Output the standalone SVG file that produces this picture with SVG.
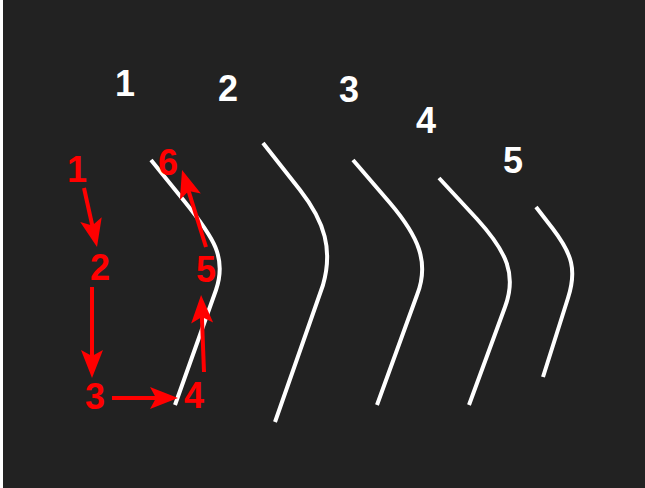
<svg xmlns="http://www.w3.org/2000/svg" width="645" height="488" viewBox="0 0 645 488">
  <style>
    .curve { fill: none; stroke: #ffffff; stroke-width: 4; stroke-linecap: butt; stroke-linejoin: round; }
    .step { fill: none; stroke: #ff0000; stroke-width: 4; marker-end: url(#head); }
    .num { font-family: "Liberation Sans", Arial, sans-serif; font-weight: bold; font-size: 36px; text-anchor: middle; }
    .white { fill: #ffffff; }
    .red { fill: #ff0000; }
  </style>
  <defs>
    <marker id="head" markerUnits="userSpaceOnUse" viewBox="-16 -12 32 24" markerWidth="32" markerHeight="24" refX="0" refY="0" orient="auto">
      <path d="M14,0 L-14,-11 L-8,0 L-14,11 Z" fill="#ff0000"/>
    </marker>
  </defs>

  <rect x="0" y="0" width="645" height="488" fill="#ffffff"/>
  <rect x="3" y="0" width="642" height="488" fill="#222222"/>

  <!-- bent strokes, widest to narrowest -->
  <g id="curve-1">
    <path class="curve" d="M151,160 L185,202 C214,238 227,258 216,290 L175,405"/>
    <text class="num white" x="125" y="96">1</text>
  </g>
  <g id="curve-2">
    <path class="curve" d="M263,143 L300,190 C325,222 333,250 323,285 L275,422"/>
    <text class="num white" x="228" y="101">2</text>
  </g>
  <g id="curve-3">
    <path class="curve" d="M353,160 L390,203 C418,236 430,262 417,295 L377,405"/>
    <text class="num white" x="349" y="102">3</text>
  </g>
  <g id="curve-4">
    <path class="curve" d="M439,178 L477,219 C507,252 517,275 505,307 L469,405"/>
    <text class="num white" x="426" y="133">4</text>
  </g>
  <g id="curve-5">
    <path class="curve" d="M536,207 L553,229 C572,254 577,270 568,298 L543,377"/>
    <text class="num white" x="513" y="173">5</text>
  </g>

  <!-- stroke order points -->
  <g id="point-1"><text class="num red" x="77" y="182">1</text></g>
  <g id="point-2"><text class="num red" x="100" y="280">2</text></g>
  <g id="point-3"><text class="num red" x="95" y="409">3</text></g>
  <g id="point-4"><text class="num red" x="194" y="408">4</text></g>
  <g id="point-5"><text class="num red" x="206" y="282">5</text></g>
  <g id="point-6"><text class="num red" x="168" y="175">6</text></g>

  <g id="connectors">
    <line class="step" x1="84" y1="188" x2="94" y2="233.3"/>
    <line class="step" x1="92" y1="287" x2="92" y2="364"/>
    <line class="step" x1="112" y1="398" x2="164" y2="398"/>
    <line class="step" x1="204" y1="372" x2="201.6" y2="309"/>
    <line class="step" x1="206" y1="247" x2="186.2" y2="183.4"/>
  </g>
</svg>
